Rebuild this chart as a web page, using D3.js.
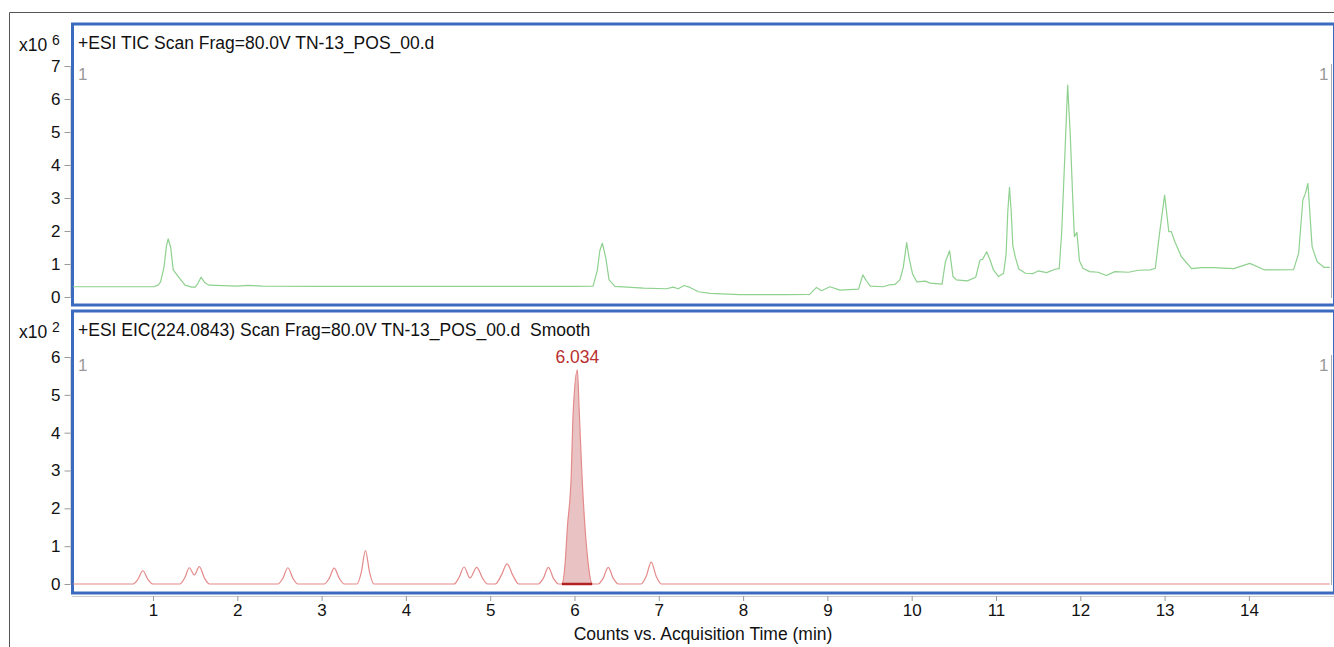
<!DOCTYPE html>
<html lang="en">
<head>
    <meta charset="UTF-8">
    <title>TIC / EIC chromatogram</title>
    <script src="https://d3js.org/d3.v7.min.js"></script>
    <style>
        body { margin: 0; background: #fff; }
        svg { display: block; font-family: "Liberation Sans", Arial, sans-serif; }
        .tick text { font-size: 17px; fill: #111; }
    </style>
</head>
<body>
    <div id="chart"></div>

    <script>
        const width = 1334;
        const height = 647;

        // x ticks (minutes)
        const timeTicks = [1, 2, 3, 4, 5, 6, 7, 8, 9, 10, 11, 12, 13, 14];
        const ticTicks = [0, 1, 2, 3, 4, 5, 6, 7];
        const eicTicks = [0, 1, 2, 3, 4, 5, 6];

        // TIC trace, [time (min), counts x10^6]
        const ticData = [
            [0.04,0.31],[0.5,0.31],[1.01,0.31],[1.06,0.36],[1.09,0.46],[1.13,0.9],[1.16,1.55],[1.18,1.76],
            [1.21,1.5],[1.24,0.82],[1.30,0.62],[1.38,0.36],[1.46,0.30],[1.50,0.30],[1.53,0.40],[1.57,0.60],
            [1.61,0.45],[1.66,0.36],[2.0,0.33],[2.13,0.35],[2.3,0.33],[3,0.32],[4,0.32],[5,0.32],[6.0,0.32],
            [6.22,0.33],[6.27,0.8],[6.30,1.4],[6.33,1.63],[6.37,1.2],[6.41,0.52],[6.48,0.32],[6.82,0.27],
            [7.09,0.25],[7.17,0.30],[7.23,0.25],[7.30,0.35],[7.37,0.29],[7.47,0.16],[7.61,0.11],[7.96,0.07],
            [8.5,0.07],[8.79,0.08],[8.87,0.29],[8.93,0.19],[9.03,0.31],[9.15,0.21],[9.37,0.24],[9.40,0.5],
            [9.42,0.67],[9.46,0.5],[9.51,0.33],[9.66,0.31],[9.74,0.37],[9.80,0.38],[9.86,0.52],[9.90,0.9],
            [9.94,1.65],[9.97,1.17],[10.01,0.7],[10.06,0.46],[10.16,0.48],[10.22,0.42],[10.36,0.39],
            [10.40,1.07],[10.45,1.40],[10.49,0.62],[10.53,0.52],[10.66,0.49],[10.76,0.6],[10.81,1.12],
            [10.84,1.14],[10.89,1.37],[10.93,1.12],[10.97,0.82],[11.03,0.62],[11.09,0.72],[11.12,1.3],
            [11.14,2.6],[11.16,3.32],[11.18,2.6],[11.20,1.55],[11.23,1.2],[11.27,0.85],[11.35,0.72],
            [11.44,0.71],[11.50,0.79],[11.60,0.74],[11.70,0.84],[11.75,0.86],[11.78,2.0],[11.82,4.5],
            [11.85,6.42],[11.88,4.97],[11.91,3.0],[11.93,1.83],[11.96,1.96],[11.99,1.1],[12.03,0.87],
            [12.11,0.77],[12.21,0.75],[12.31,0.65],[12.41,0.77],[12.57,0.75],[12.69,0.81],[12.83,0.82],
            [12.89,0.87],[12.94,1.93],[13.00,3.09],[13.05,1.98],[13.08,1.98],[13.12,1.68],[13.20,1.22],
            [13.32,0.86],[13.44,0.89],[13.58,0.89],[13.82,0.86],[14.01,1.02],[14.19,0.82],[14.53,0.83],
            [14.59,1.32],[14.64,2.94],[14.67,3.14],[14.70,3.44],[14.75,1.52],[14.81,1.07],[14.89,0.90],
            [14.96,0.90]
        ];

        // EIC trace, [time (min), counts x10^2]
        const eicData = [
            [0.04,0],[0.76,0],[0.82,0.12],[0.88,0.35],[0.94,0.12],[1.0,0],
            [1.32,0],[1.38,0.18],[1.43,0.43],[1.49,0.24],[1.55,0.46],[1.61,0.16],[1.67,0],
            [2.48,0],[2.54,0.15],[2.60,0.43],[2.66,0.15],[2.72,0],
            [3.03,0],[3.09,0.15],[3.15,0.42],[3.21,0.15],[3.27,0],
            [3.42,0],[3.47,0.3],[3.52,0.88],[3.57,0.3],[3.62,0],
            [4.57,0],[4.63,0.17],[4.69,0.45],[4.76,0.16],[4.84,0.44],[4.91,0.15],[4.97,0],
            [5.06,0],[5.13,0.22],[5.20,0.53],[5.27,0.22],[5.34,0],
            [5.57,0],[5.63,0.15],[5.69,0.44],[5.75,0.15],[5.81,0],
            [5.85,0],[5.89,0.59],[5.915,1.48],[5.96,2.8],[5.985,4.56],[6.034,5.66],[6.056,4.56],
            [6.09,2.8],[6.125,1.48],[6.16,0.59],[6.21,0],
            [6.28,0],[6.34,0.15],[6.40,0.44],[6.46,0.15],[6.52,0],
            [6.79,0],[6.85,0.2],[6.91,0.58],[6.97,0.2],[7.03,0],
            [14.96,0]
        ];

        // integrated peak
        const peakRT = 6.034;
        const peakStart = 5.85;
        const peakEnd = 6.21;

        const svg = d3.select("#chart")
                      .append("svg")
                      .attr("width", width)
                      .attr("height", height);

        const x = d3.scaleLinear().domain([0, 15]).range([68.7, 1333.2]);
        const yTic = d3.scaleLinear().domain([0, 7]).range([297, 66]);
        const yEic = d3.scaleLinear().domain([0, 6]).range([584, 357]);

        svg.append("defs").append("clipPath").attr("id", "plotclip")
           .append("rect").attr("x", 73).attr("y", 0).attr("width", 1258).attr("height", height);

        // outer frame
        svg.append("path")
           .attr("d", `M9.5,${height} V12.5 H${width}`)
           .attr("fill", "none").attr("stroke", "#555").attr("stroke-width", 1);

        function panel(top, bottom, yScale, ticks, exp, title) {
            // y axis
            const ax = svg.append("g")
                .attr("transform", "translate(70.5,0)")
                .call(d3.axisLeft(yScale).tickValues(ticks).tickFormat(d3.format("d"))
                        .tickSize(6).tickSizeOuter(0).tickPadding(4));
            ax.select(".domain").attr("stroke", "#aaa");
            ax.selectAll(".tick line").attr("stroke", "#999");

            // right marker line
            svg.append("line")
               .attr("x1", 1331.5).attr("x2", 1331.5)
               .attr("y1", yScale(ticks[ticks.length - 1]) - 2).attr("y2", yScale(0) + 1)
               .attr("stroke", "#aaa");

            // blue panel box
            svg.append("rect")
               .attr("x", 72.5).attr("y", top)
               .attr("width", 1262).attr("height", bottom - top)
               .attr("fill", "none").attr("stroke", "#3a6bbf").attr("stroke-width", 3);

            // exponent label
            const e = svg.append("text").attr("x", 19).attr("y", top + 27)
               .style("font-size", "17.5px").attr("fill", "#111");
            e.append("tspan").text("x10 ");
            e.append("tspan").attr("dy", -6).style("font-size", "14px").text(exp);

            svg.append("text").attr("x", 78).attr("y", top + 25)
               .style("font-size", "17.5px").style("white-space", "pre").attr("fill", "#111")
               .text(title);

            svg.append("text").attr("x", 78).attr("y", yScale(ticks[ticks.length - 1]) + 14)
               .style("font-size", "17px").attr("fill", "#999").text("1");
            svg.append("text").attr("x", 1328.5).attr("y", yScale(ticks[ticks.length - 1]) + 14)
               .attr("text-anchor", "end")
               .style("font-size", "17px").attr("fill", "#999").text("1");
        }

        panel(24, 305, yTic, ticTicks, "6", "+ESI TIC Scan Frag=80.0V TN-13_POS_00.d");
        panel(311, 593, yEic, eicTicks, "2", "+ESI EIC(224.0843) Scan Frag=80.0V TN-13_POS_00.d  Smooth");

        // TIC line
        svg.append("path")
           .datum(ticData)
           .attr("clip-path", "url(#plotclip)")
           .attr("fill", "none")
           .attr("stroke", "#8fd18f")
           .attr("stroke-width", 1.2)
           .attr("stroke-linejoin", "round")
           .attr("d", d3.line().x(d => x(d[0])).y(d => yTic(d[1])));

        // EIC integrated area
        const peakPts = eicData.filter(d => d[0] >= peakStart && d[0] <= peakEnd);
        svg.append("path")
           .datum(peakPts)
           .attr("fill", "#e9c3c3")
           .attr("stroke", "none")
           .attr("d", d3.area().curve(d3.curveMonotoneX).x(d => x(d[0])).y0(yEic(0)).y1(d => yEic(d[1])));

        // EIC line
        svg.append("path")
           .datum(eicData)
           .attr("clip-path", "url(#plotclip)")
           .attr("fill", "none")
           .attr("stroke", "#e48a8a")
           .attr("stroke-width", 1.2)
           .attr("d", d3.line().curve(d3.curveMonotoneX).x(d => x(d[0])).y(d => yEic(d[1])));

        // integration baseline
        svg.append("line")
           .attr("x1", x(peakStart)).attr("x2", x(peakEnd))
           .attr("y1", yEic(0)).attr("y2", yEic(0))
           .attr("stroke", "#b22222").attr("stroke-width", 2.5);

        const apex = eicData.find(d => d[0] === peakRT);
        svg.append("text")
           .attr("x", x(peakRT)).attr("y", yEic(apex[1]) - 7)
           .attr("text-anchor", "middle")
           .style("font-size", "17.5px").attr("fill", "#b8302f")
           .text(peakRT.toFixed(3));

        // x axis
        const xa = svg.append("g")
            .attr("transform", "translate(0,596)")
            .call(d3.axisBottom(x).tickValues(timeTicks).tickFormat(d3.format("d"))
                    .tickSize(5).tickSizeOuter(0).tickPadding(3));
        xa.select(".domain").attr("d", "M72,0.5H1334").attr("stroke", "#ccc");
        xa.selectAll(".tick line").attr("stroke", "#999");

        svg.append("text")
           .attr("x", 703).attr("y", 640)
           .attr("text-anchor", "middle")
           .style("font-size", "17.5px").attr("fill", "#111")
           .text("Counts vs. Acquisition Time (min)");
    </script>
</body>
</html>
